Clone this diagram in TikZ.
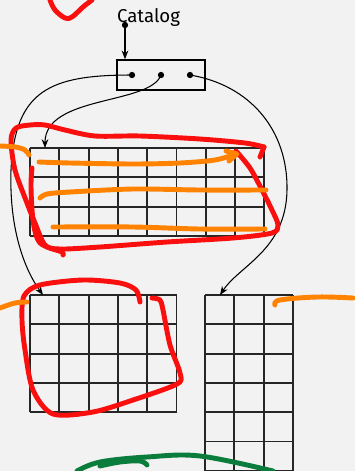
\documentclass[tikz,border=0pt]{standalone}
\usepackage{fontspec}
\setmainfont{Fira Sans}
\usetikzlibrary{arrows.meta}
\definecolor{inkred}{RGB}{250,15,15}
\definecolor{inkorange}{RGB}{255,130,0}
\definecolor{inkgreen}{RGB}{10,125,60}

\begin{document}
\begin{tikzpicture}[x=0.02cm, y=-0.02cm,
  tableline/.style={black!85, line width=1.1pt},
  link/.style={line width=0.6pt, -{Stealth[length=5pt,width=3.8pt]}},
  ink/.style={line width=2.8pt, line cap=round, line join=round},
  dot/.style={circle, fill, inner sep=0pt, minimum size=3.6pt}]
% page
\fill[black!5] (0,0) rectangle (355,471);
\useasboundingbox (0,0) rectangle (355,471);

% top table, 8 x 3 cells
\foreach \i in {0,...,8} \draw[tableline] ({30+29.3*\i},148) -- ({30+29.3*\i},235.9);
\foreach \j in {0,...,3} \draw[tableline] (30,{148+29.3*\j}) -- (264.4,{148+29.3*\j});

% lower left table, 5 x 4 cells
\foreach \i in {0,...,5} \draw[tableline] ({30+29.3*\i},295) -- ({30+29.3*\i},412.2);
\foreach \j in {0,...,4} \draw[tableline] (30,{295+29.3*\j}) -- (176.5,{295+29.3*\j});

% lower right table, 3 x 6 cells
\foreach \i in {0,...,3} \draw[tableline] ({205+29.3*\i},295) -- ({205+29.3*\i},470.8);
\foreach \j in {0,...,6} \draw[tableline] (205,{295+29.3*\j}) -- (292.9,{295+29.3*\j});

% catalog and its record
\node[anchor=base, font=\fontsize{10.6}{12}\selectfont] (cat) at (148.5,22) {Catalog};
\node[dot] (cdot) at (125,25) {};
\node[draw, line width=0.8pt, minimum width=1.76cm, minimum height=0.6cm] (rec) at (161,75) {};
\node[dot] (d1) at (132,75) {};
\node[dot] (d2) at (161,75) {};
\node[dot] (d3) at (190,75) {};
\coordinate (toptab) at (45,148);
\coordinate (lefttab) at (43,295);
\coordinate (righttab) at (220,295);

% pointers
\draw[link] (cdot.center) -- (rec.north -| cdot);
\draw[link] (d1.center) .. controls (50,75) and (15,90) .. (11,170)
  .. controls (9,230) and (25,270) .. (lefttab);
\draw[link] (d2.center) .. controls (150,105) and (45,95) .. (toptab);
\draw[link] (d3.center) .. controls (250,85) and (288,130) .. (287,190)
  .. controls (286,250) and (240,265) .. (righttab);

% hand strokes, red
\draw[ink, inkred] plot[smooth, tension=0.6] coordinates {(50,0) (55,10) (65,18) (72,17) (83,7) (92,0)};
\draw[ink, inkred] plot[smooth, tension=0.5] coordinates {(236,151) (250,168) (262,190) (272,210)
  (278,225) (272,233) (233,238) (167,242) (100,247) (60,249) (45,245) (35,223) (27,203) (15,170)
  (11,140) (16,128) (30,125) (45,125) (65,130) (95,136) (140,136) (200,139) (245,143) (264,147)};
\draw[ink, inkred] (264,147) -- (260,157);
\draw[ink, inkred] plot[smooth, tension=0.6] coordinates {(32,168) (31,187) (33,220) (38,240)
  (47,247) (62,252) (63,255)};
\draw[ink, inkred] plot[smooth, tension=0.5] coordinates {(140,302) (136,290) (120,283) (83,280)
  (40,285) (24,296) (22,320) (25,350) (33,390) (53,414) (93,412) (133,400) (177,384) (180,373)
  (170,345) (163,310) (160,300) (152,298)};

% hand strokes, orange
\draw[ink, inkorange] plot[smooth, tension=0.6] coordinates {(0,146) (15,147) (25,150) (29,155)};
\draw[ink, inkorange] plot[smooth, tension=0.5] coordinates {(39,162) (70,163) (133,164) (180,163) (215,160) (236,154)};
\draw[ink, inkorange] (226,151) -- (237,154) -- (229,161);
\draw[ink, inkorange] plot[smooth, tension=0.5] coordinates {(40,198) (47,194) (70,192) (133,189) (200,190) (266,190)};
\draw[ink, inkorange] plot[smooth, tension=0.5] coordinates {(53,227) (133,227) (200,229) (265,229)};
\draw[ink, inkorange] plot[smooth, tension=0.6] coordinates {(0,308) (15,303) (27,302)};
\draw[ink, inkorange] plot[smooth, tension=0.6] coordinates {(275,305) (280,300) (317,297) (353,298)};

% hand strokes, green
\draw[ink, inkgreen] plot[smooth, tension=0.6] coordinates {(77,471) (100,462) (147,457) (200,456) (273,471)};
\draw[ink, inkgreen] plot[smooth, tension=0.6] coordinates {(147,465) (140,461) (120,462) (100,466)};
\end{tikzpicture}
\end{document}
